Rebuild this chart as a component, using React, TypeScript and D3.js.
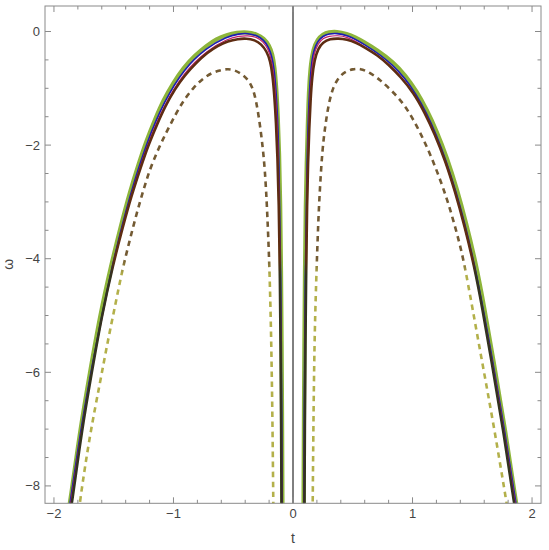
import React, { useEffect, useRef } from 'react';
import * as d3 from 'd3';

// [t, omega] pairs, one array per branch
const greenLeft = [[-1.880, -8.45], [-1.866, -8.31], [-1.78, -7.00], [-1.70, -6.02], [-1.615, -5.00], [-1.52, -4.10], [-1.44, -3.42], [-1.364, -2.82], [-1.29, -2.32], [-1.224, -1.91], [-1.155, -1.55], [-1.085, -1.21], [-1.00, -0.90], [-0.918, -0.64], [-0.82, -0.42], [-0.722, -0.25], [-0.64, -0.13], [-0.555, -0.06], [-0.47, -0.02], [-0.38, -0.01], [-0.30, -0.05], [-0.245, -0.12], [-0.20, -0.24], [-0.172, -0.40], [-0.155, -0.62], [-0.140, -0.97], [-0.127, -1.50], [-0.116, -2.14], [-0.107, -3.00], [-0.100, -4.20], [-0.095, -5.50], [-0.091, -7.00], [-0.088, -8.45]];
const greenRight = [[0.088, -8.45], [0.091, -7.00], [0.095, -5.50], [0.100, -4.20], [0.107, -3.00], [0.115, -2.30], [0.122, -1.80], [0.129, -1.26], [0.138, -0.88], [0.150, -0.56], [0.170, -0.31], [0.205, -0.14], [0.25, -0.05], [0.30, -0.01], [0.365, 0.00], [0.45, -0.04], [0.52, -0.10], [0.589, -0.18], [0.70, -0.32], [0.84, -0.54], [0.94, -0.77], [1.035, -1.05], [1.12, -1.38], [1.202, -1.75], [1.29, -2.23], [1.37, -2.76], [1.45, -3.38], [1.53, -4.08], [1.60, -4.85], [1.676, -5.78], [1.774, -6.99], [1.866, -8.31], [1.880, -8.45]];

const blueLeft = [[-1.876, -8.45], [-1.775, -7.0], [-1.695, -6.02], [-1.515, -4.10], [-1.36, -2.84], [-1.22, -1.93], [-1.08, -1.24], [-0.915, -0.66], [-0.72, -0.28], [-0.555, -0.09], [-0.45, -0.04], [-0.38, -0.03], [-0.30, -0.07], [-0.245, -0.15], [-0.205, -0.27], [-0.176, -0.44], [-0.158, -0.66], [-0.143, -1.0], [-0.129, -1.52], [-0.118, -2.16], [-0.102, -4.2], [-0.093, -7.0], [-0.090, -8.45]];
const blueRight = [[0.090, -8.45], [0.093, -7.0], [0.102, -4.2], [0.117, -2.32], [0.131, -1.28], [0.152, -0.58], [0.172, -0.34], [0.205, -0.17], [0.25, -0.08], [0.30, -0.04], [0.365, -0.03], [0.45, -0.06], [0.589, -0.21], [0.84, -0.57], [1.03, -1.07], [1.198, -1.77], [1.365, -2.78], [1.525, -4.10], [1.671, -5.80], [1.769, -7.0], [1.876, -8.45]];

const redLeft = [[-1.870, -8.45], [-1.77, -7.0], [-1.69, -6.02], [-1.51, -4.10], [-1.355, -2.86], [-1.215, -1.96], [-1.075, -1.28], [-0.91, -0.71], [-0.718, -0.33], [-0.55, -0.13], [-0.45, -0.08], [-0.38, -0.07], [-0.30, -0.10], [-0.25, -0.18], [-0.21, -0.30], [-0.182, -0.48], [-0.163, -0.72], [-0.148, -1.05], [-0.134, -1.56], [-0.122, -2.2], [-0.105, -4.2], [-0.096, -7.0], [-0.093, -8.45]];
const redRight = [[0.093, -8.45], [0.096, -7.0], [0.105, -4.2], [0.120, -2.35], [0.135, -1.32], [0.157, -0.63], [0.177, -0.38], [0.21, -0.21], [0.25, -0.12], [0.30, -0.08], [0.37, -0.07], [0.45, -0.09], [0.585, -0.24], [0.835, -0.61], [1.025, -1.10], [1.193, -1.79], [1.36, -2.80], [1.52, -4.12], [1.667, -5.80], [1.765, -7.0], [1.870, -8.45]];

const darkLeft = [[-1.862, -8.45], [-1.850, -8.31], [-1.765, -7.00], [-1.685, -6.02], [-1.60, -5.00], [-1.505, -4.10], [-1.425, -3.45], [-1.35, -2.88], [-1.275, -2.40], [-1.21, -2.00], [-1.14, -1.65], [-1.07, -1.32], [-0.99, -1.02], [-0.905, -0.77], [-0.81, -0.55], [-0.715, -0.37], [-0.63, -0.25], [-0.545, -0.17], [-0.46, -0.13], [-0.39, -0.12], [-0.32, -0.15], [-0.265, -0.22], [-0.22, -0.35], [-0.19, -0.52], [-0.172, -0.75], [-0.157, -1.10], [-0.142, -1.60], [-0.130, -2.20], [-0.119, -3.00], [-0.110, -4.20], [-0.104, -5.50], [-0.099, -7.00], [-0.096, -8.45]];
const darkRight = [[0.096, -8.45], [0.099, -7.00], [0.104, -5.50], [0.110, -4.20], [0.118, -3.00], [0.126, -2.30], [0.136, -1.70], [0.147, -1.20], [0.160, -0.80], [0.180, -0.50], [0.21, -0.30], [0.25, -0.19], [0.31, -0.13], [0.38, -0.12], [0.45, -0.14], [0.53, -0.20], [0.61, -0.29], [0.70, -0.41], [0.80, -0.58], [0.90, -0.80], [1.01, -1.08], [1.10, -1.42], [1.185, -1.80], [1.275, -2.28], [1.355, -2.81], [1.435, -3.42], [1.515, -4.12], [1.585, -4.88], [1.66, -5.80], [1.758, -7.0], [1.850, -8.31], [1.862, -8.45]];

const dashedLeft = [[-1.79, -8.45], [-1.782, -8.25], [-1.70, -7.10], [-1.615, -6.19], [-1.55, -5.45], [-1.49, -4.85], [-1.434, -4.25], [-1.367, -3.68], [-1.308, -3.20], [-1.25, -2.78], [-1.197, -2.42], [-1.125, -2.06], [-1.057, -1.76], [-0.985, -1.47], [-0.918, -1.22], [-0.835, -0.99], [-0.75, -0.82], [-0.68, -0.73], [-0.611, -0.68], [-0.55, -0.66], [-0.50, -0.67], [-0.43, -0.74], [-0.36, -0.88], [-0.32, -1.10], [-0.29, -1.44], [-0.26, -1.90], [-0.234, -2.44], [-0.215, -3.20], [-0.198, -4.08], [-0.184, -5.20], [-0.173, -6.60], [-0.165, -8.25], [-0.164, -8.45]];
const dashedRight = [[0.164, -8.45], [0.165, -8.31], [0.172, -6.60], [0.182, -5.20], [0.198, -4.14], [0.212, -3.30], [0.226, -2.73], [0.245, -2.10], [0.268, -1.68], [0.30, -1.25], [0.337, -0.97], [0.385, -0.80], [0.435, -0.71], [0.50, -0.66], [0.561, -0.65], [0.64, -0.72], [0.728, -0.85], [0.82, -1.03], [0.923, -1.26], [1.01, -1.56], [1.09, -1.89], [1.16, -2.22], [1.23, -2.60], [1.29, -2.96], [1.341, -3.32], [1.39, -3.70], [1.43, -4.05], [1.50, -4.85], [1.579, -5.78], [1.682, -6.96], [1.788, -8.31], [1.798, -8.45]];

const xMajor = [-2, -1, 0, 1, 2];
const yMajor = [0, -2, -4, -6, -8];

const WIDTH = 549;
const HEIGHT = 550;

function App() {
  const ref = useRef<SVGSVGElement | null>(null);

  useEffect(() => {
    const svg = d3.select(ref.current);
    svg.selectAll('*').remove();

    const left = 45, right = 541, top = 6, bottom = 503.3;

    const x = d3.scaleLinear().domain([-2.075, 2.075]).range([left, right]);
    const y = d3.scaleLinear().domain([0.449, -8.306]).range([top, bottom]);

    const defs = svg.append('defs');
    defs.append('clipPath')
      .attr('id', 'plotclip')
      .append('rect')
      .attr('x', left)
      .attr('y', top)
      .attr('width', right - left)
      .attr('height', bottom - top);

    // colour shift seen along the curves (brownish top, olive bottom)
    const grad = (id, topColor, bottomColor) => {
      const g = defs.append('linearGradient')
        .attr('id', id)
        .attr('gradientUnits', 'userSpaceOnUse')
        .attr('x1', 0).attr('x2', 0)
        .attr('y1', 0).attr('y2', HEIGHT);
      g.append('stop').attr('offset', 0).attr('stop-color', topColor);
      g.append('stop').attr('offset', 0.47).attr('stop-color', topColor);
      g.append('stop').attr('offset', 0.5).attr('stop-color', bottomColor);
      g.append('stop').attr('offset', 1).attr('stop-color', bottomColor);
    };
    grad('darkgrad', '#5e2c12', '#33321f');
    grad('dashgrad', '#735a33', '#b3b04a');

    const line = d3.line()
      .x(d => x(d[0]))
      .y(d => y(d[1]))
      .curve(d3.curveBasis);

    const plot = svg.append('g').attr('clip-path', 'url(#plotclip)');

    const series = [
      { data: [greenLeft, greenRight], color: '#8db53a', width: 4.2 },
      { data: [blueLeft, blueRight], color: '#1c1cb4', width: 1.6 },
      { data: [redLeft, redRight], color: '#c0206a', width: 1.2 },
      { data: [darkLeft, darkRight], color: 'url(#darkgrad)', width: 2.6 },
      { data: [dashedLeft, dashedRight], color: 'url(#dashgrad)', width: 2.6, dash: '5.5,4.5' },
    ];

    series.forEach(s => {
      s.data.forEach(branch => {
        plot.append('path')
          .attr('d', line(branch))
          .attr('fill', 'none')
          .attr('stroke', s.color)
          .attr('stroke-width', s.width)
          .attr('stroke-dasharray', s.dash || null)
          .attr('stroke-linejoin', 'round');
      });
    });

    // vertical axis at t = 0
    svg.append('line')
      .attr('x1', x(0)).attr('x2', x(0))
      .attr('y1', top).attr('y2', bottom)
      .attr('stroke', 'black')
      .attr('stroke-width', 1);

    // frame
    svg.append('rect')
      .attr('x', left).attr('y', top)
      .attr('width', right - left).attr('height', bottom - top)
      .attr('fill', 'none')
      .attr('stroke', '#8a8a8a')
      .attr('stroke-width', 1);

    const xMinor = d3.range(-2, 2.001, 0.2).filter(v => Math.abs(v - Math.round(v)) > 0.01);
    const yMinor = d3.range(0, -8.01, -0.5).filter(v => Math.abs(v / 2 - Math.round(v / 2)) > 0.01);

    const ticks = svg.append('g').attr('stroke', '#8a8a8a').attr('stroke-width', 1);
    const xt = xMajor.map(v => [v, 6]).concat(xMinor.map(v => [v, 3.5]));
    xt.forEach(([v, len]) => {
      ticks.append('line').attr('x1', x(v)).attr('x2', x(v)).attr('y1', bottom).attr('y2', bottom - len);
      ticks.append('line').attr('x1', x(v)).attr('x2', x(v)).attr('y1', top).attr('y2', top + len);
    });
    const yt = yMajor.map(v => [v, 6]).concat(yMinor.map(v => [v, 3.5]));
    yt.forEach(([v, len]) => {
      ticks.append('line').attr('x1', left).attr('x2', left + len).attr('y1', y(v)).attr('y2', y(v));
      ticks.append('line').attr('x1', right).attr('x2', right - len).attr('y1', y(v)).attr('y2', y(v));
    });

    const font = 'Liberation Sans, Arial, sans-serif';

    svg.selectAll('xlabels')
      .data(xMajor)
      .enter()
      .append('text')
      .attr('x', d => x(d))
      .attr('y', bottom + 15)
      .attr('text-anchor', 'middle')
      .attr('font-family', font)
      .attr('font-size', 13)
      .attr('fill', '#444')
      .text(d => (d < 0 ? '\u2212' + Math.abs(d) : d));

    svg.selectAll('ylabels')
      .data(yMajor)
      .enter()
      .append('text')
      .attr('x', left - 5)
      .attr('y', d => y(d) + 4.5)
      .attr('text-anchor', 'end')
      .attr('font-family', font)
      .attr('font-size', 13)
      .attr('fill', '#444')
      .text(d => (d < 0 ? '\u2212' + Math.abs(d) : d));

    svg.append('text')
      .attr('x', x(0))
      .attr('y', 543)
      .attr('text-anchor', 'middle')
      .attr('font-family', font)
      .attr('font-size', 14)
      .attr('fill', '#444')
      .text('t');

    svg.append('text')
      .attr('transform', `translate(13 ${y(-4.1)}) rotate(-90)`)
      .attr('text-anchor', 'middle')
      .attr('font-family', font)
      .attr('font-size', 14)
      .attr('fill', '#444')
      .text('ω');
  }, []);

  return (
    <div style={{ position: 'absolute', left: 0, top: 0 }}>
      <svg ref={ref} width={WIDTH} height={HEIGHT} style={{ display: 'block', background: 'white' }} />
    </div>
  );
}

export default App;
